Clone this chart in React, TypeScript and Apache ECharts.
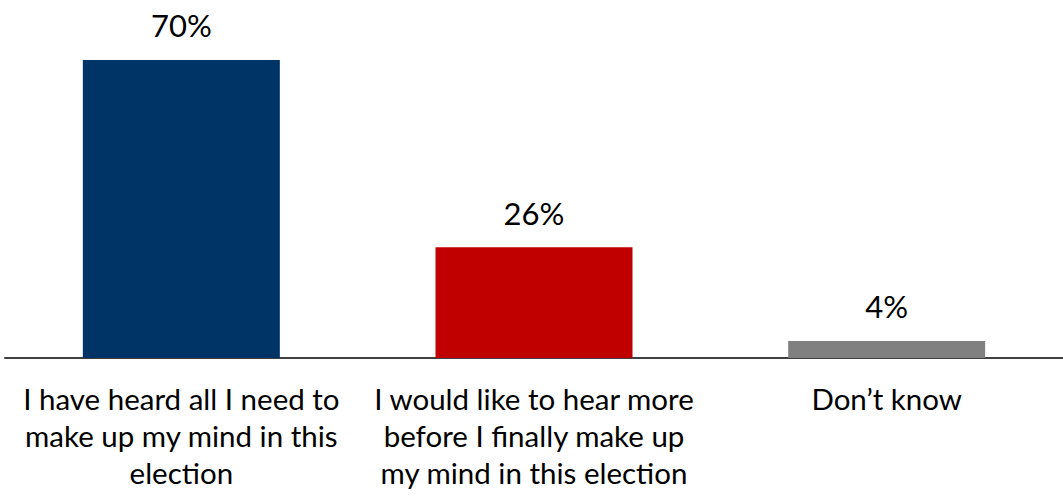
import React, { useEffect, useRef } from "react";
import * as echarts from "echarts";

const categories = [
  "I have heard all I need to\nmake up my mind in this\nelection",
  "I would like to hear more\nbefore I finally make up\nmy mind in this election",
  "Don\u2019t know",
];
const values = [70, 26, 4];
const colors = ["#003366", "#C00000", "#808080"];

export default function App() {
  const ref = useRef<HTMLDivElement>(null);
  useEffect(() => {
    if (!ref.current) return;
    const chart = echarts.init(ref.current, null, { renderer: "svg" });
    chart.setOption({
      animation: false,
      grid: { left: 5, right: 0, top: 17.4, bottom: 140, containLabel: false },
      xAxis: {
        type: "category",
        data: categories,
        axisLine: { show: true, lineStyle: { color: "#404040", width: 2 } },
        axisTick: { show: false },
        axisLabel: {
          interval: 0,
          fontFamily: "Lato",
          fontSize: 29.5,
          lineHeight: 37,
          color: "#000",
          margin: 22,
        },
      },
      yAxis: {
        type: "value",
        min: 0,
        max: 80,
        show: false,
        splitLine: { show: false },
      },
      series: [
        {
          type: "bar",
          barWidth: 197,
          data: values.map((v, i) => ({ value: v, itemStyle: { color: colors[i] } })),
          label: {
            show: true,
            position: "top",
            distance: 19,
            formatter: "{c}%",
            fontFamily: "Lato",
            fontSize: 31,
            color: "#000",
          },
        },
      ],
    });
    return () => chart.dispose();
  }, []);
  return (
    <div
      ref={ref}
      style={{ position: "fixed", left: 0, top: 0, width: 1063, height: 498, background: "#fff" }}
    />
  );
}
